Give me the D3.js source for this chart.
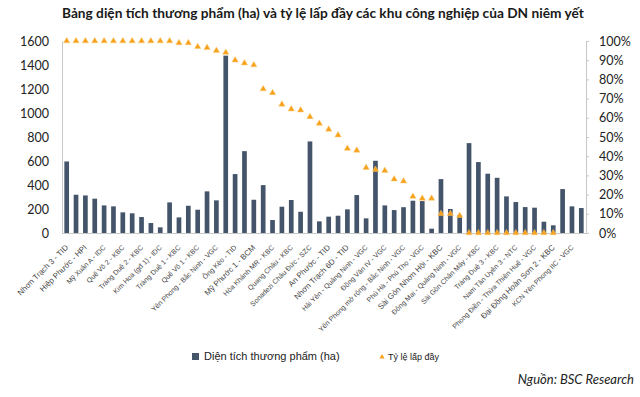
<!DOCTYPE html>
<html>
<head>
<meta charset="utf-8">
<script src="https://cdn.jsdelivr.net/npm/d3@7"></script>
<style>
  body { margin: 0; background: #fff; }
  svg { display: block; }
</style>
</head>
<body>
<div id="chart"></div>
<script>
// diện tích thương phẩm (ha) - 56 KCN, theo thứ tự tỷ lệ lấp đầy giảm dần
var area = [596, 319, 313, 286, 230, 222, 172, 164, 133, 83, 47, 255, 130, 227, 194, 347, 272,
            1478, 491, 682, 277, 399, 108, 219, 275, 177, 763, 97, 136, 144, 197, 316, 122, 602, 230, 191,
            215, 269, 266, 36, 449, 200, 150, 749, 591, 494, 460, 305, 258, 216, 211, 94, 64, 366, 222, 208];

// tỷ lệ lấp đầy (%) - null = không có số liệu
var fillRate = [100, 100, 100, 100, 100, 100, 100, 100, 100, 100, 100, 100,
                99, 99, 97, 96.5, 95, 94, 90, 88.5, 87.5, 75, 73, 67, 64.5, 64, 60.5, 57, 54, 51,
                44, 43, 34, 33, 32.5, 28, 27, 19, 18, 18, 10, 10, 9,
                0, 0, 0, 0, 0, 0, 0, 0, 0, 0, null, null, null];

// nhãn trục x (chỉ hiện nhãn ở các cột chẵn)
var labels = ["Nhơn Trạch 3 - TID", "Hiệp Phước - HPI", "Mỹ Xuân A - IDC", "Quế Võ 2 - KBC",
              "Tràng Duệ 2 - KBC", "Kim Hoa (gđ 1) - IDC", "Tràng Duệ 1 - KBC", "Quế Võ 1 - KBC",
              "Yên Phong - Bắc Ninh - VGC", "Ông Kèo - TID", "Mỹ Phước 1 - BCM", "Hòa Khánh MR - KBC",
              "Quang Châu - KBC", "Sonadezi Châu Đức - SZC", "An Phước - TID", "Nhơn Trạch 6D - TID",
              "Hải Yên - Quảng Ninh - VGC", "Đồng Văn IV - VGC", "Yên Phong mở rộng - Bắc Ninh - VGC",
              "Phú Hà - Phú Thọ - VGC", "Sài Gòn Nhơn Hội - KBC", "Đông Mai - Quảng Ninh - VGC",
              "Sài Gòn Chân Mây - KBC", "Tràng Duệ 3 - KBC", "Nam Tân Uyên 3 - NTC",
              "Phong Điền - Thừa Thiên Huế - VGC", "Đại Đồng Hoàn Sơn 2 - KBC", "KCN Yên Phong IIC - VGC"];

var areaTicks = [0, 200, 400, 600, 800, 1000, 1200, 1400, 1600];
var rateTicks = [0, 10, 20, 30, 40, 50, 60, 70, 80, 90, 100];

var title = "Bảng diện tích thương phẩm (ha) và tỷ lệ lấp đầy các khu công nghiệp của DN niêm yết";
var legendNames = ["Diện tích thương phẩm (ha)", "Tỷ lệ lấp đầy"];
var source = "Nguồn: BSC Research";

var width  = 640;
var height = 397;
var margin = {left: 62, right: 54, top: 41, bottom: 164};

var barColor = "#44546a";
var triColor = "#f7a11a";
// some labels are drawn a bit bigger in the source picture
var bigLabels = [0, 1, 10, 14, 15, 20, 26];

var svg = d3.select("#chart").append("svg").attr("width", width).attr("height", height);

var x = d3.scaleBand().domain(d3.range(area.length))
          .range([margin.left, width - margin.right]).paddingInner(0.5).paddingOuter(0.25);
var y = d3.scaleLinear().domain([0, 1600]).range([height - margin.bottom, margin.top]);
var y2 = d3.scaleLinear().domain([0, 100]).range([height - margin.bottom, margin.top]);

var baseY = height - margin.bottom;

// title
svg.append("text").attr("x", 62).attr("y", 18)
   .style("font-family", "Lato, sans-serif").style("font-weight", "bold").style("font-size", "13.7px")
   .style("fill", "#1a1a1a").text(title);

// left axis
var yAxis = d3.axisLeft(y).tickValues(areaTicks).tickSize(0).tickPadding(13).tickFormat(d3.format("d"));
var gy = svg.append("g").attr("transform", "translate(" + margin.left + ",0)").call(yAxis);
gy.select(".domain").attr("stroke", "#c8c8c8");
gy.selectAll("text").style("font-family", "Lato, sans-serif").style("font-size", "12.5px").style("fill", "#222");

// right axis
var y2Axis = d3.axisRight(y2).tickValues(rateTicks).tickSize(3).tickPadding(10).tickFormat(function(d){return d + "%";});
var gy2 = svg.append("g").attr("transform", "translate(" + (width - margin.right) + ",0)").call(y2Axis);
gy2.select(".domain").attr("stroke", "#c8c8c8");
gy2.selectAll("line").attr("stroke", "#c8c8c8");
gy2.selectAll("text").style("font-family", "Lato, sans-serif").style("font-size", "12.5px").style("fill", "#222");

// bars
svg.append("g").selectAll("rect").data(area).join("rect")
   .attr("x", function(d, i){return x(i);})
   .attr("y", function(d){return y(d);})
   .attr("width", x.bandwidth())
   .attr("height", function(d){return baseY - y(d);})
   .attr("fill", barColor);

// bottom axis
var xAxis = d3.axisBottom(x).tickSize(0).tickFormat(function(d){return d % 2 === 0 ? labels[d / 2] : "";});
var gx = svg.append("g").attr("transform", "translate(0," + baseY + ")").call(xAxis);
gx.select(".domain").attr("stroke", "#c8c8c8");
gx.selectAll("text")
  .style("font-family", "'Liberation Sans', Arial, sans-serif")
  .style("font-size", function(d){return (d % 2 === 0 && bigLabels.indexOf(d / 2) >= 0) ? "7.9px" : "7px";})
  .style("fill", "#444")
  .attr("text-anchor", "end").attr("dy", null).attr("y", 0)
  .attr("transform", "translate(2,15) rotate(-45)");

// triangles
var tri = d3.symbol().type(d3.symbolTriangle).size(17);
svg.append("g").selectAll("path").data(fillRate.map(function(d, i){return {i: i, v: d};})
      .filter(function(d){return d.v !== null;}))
   .join("path")
   .attr("d", tri)
   .attr("transform", function(d){return "translate(" + (x(d.i) + x.bandwidth() / 2) + "," + y2(d.v) + ")";})
   .attr("fill", triColor)
   .attr("stroke", "#fbc873").attr("stroke-width", 0.5);

// legend
var lg = svg.append("g").style("font-family", "'Liberation Sans', Arial, sans-serif").style("fill", "#222");
lg.append("rect").attr("x", 192).attr("y", 353).attr("width", 7).attr("height", 7).attr("fill", barColor);
lg.append("text").attr("x", 204).attr("y", 360).style("font-size", "11px").text(legendNames[0]);
lg.append("path").attr("d", d3.symbol().type(d3.symbolTriangle).size(12))
  .attr("transform", "translate(382,357)").attr("fill", triColor);
lg.append("text").attr("x", 388).attr("y", 360).style("font-size", "9px").text(legendNames[1]);

// source
svg.append("text").attr("x", 634).attr("y", 384).attr("text-anchor", "end")
   .style("font-family", "Lato, sans-serif").style("font-style", "italic").style("font-size", "13px")
   .style("fill", "#222").text(source);
</script>
</body>
</html>
